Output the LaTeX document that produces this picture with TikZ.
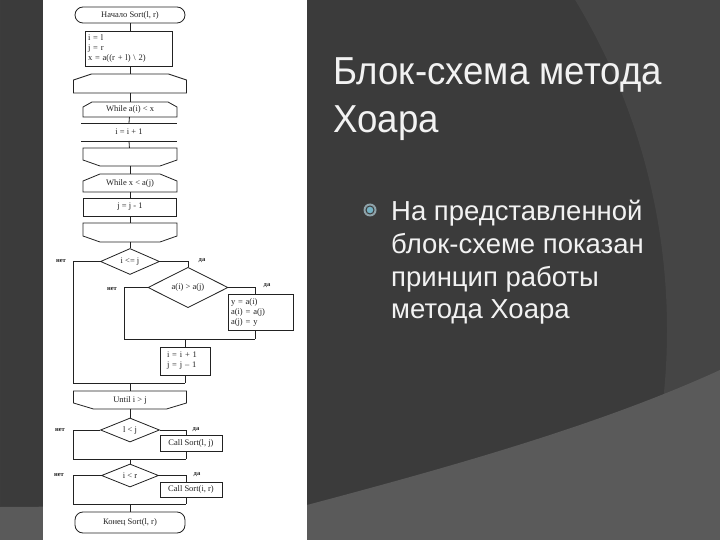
\documentclass[tikz,border=0pt]{standalone}
\usepackage{fontspec}
\setmainfont{Liberation Serif}
\newfontfamily\slidefont{Liberation Sans}
\newfontfamily\titlefont[FakeStretch=0.94]{Liberation Sans}
\usetikzlibrary{shapes.geometric}
\definecolor{slidedark}{HTML}{3B3B3B}
\definecolor{slidemid}{HTML}{454545}
\definecolor{slidelow}{HTML}{5A5A5A}
\definecolor{slidetext}{HTML}{F2F2F2}
\definecolor{bulletring}{HTML}{8FA3AA}
\definecolor{bulletdot}{HTML}{74B2C4}
\definecolor{ink}{HTML}{222222}

\tikzset{
  flow/.style={draw=ink, line width=0.8pt, text=ink, inner sep=1pt,
    font=\fontsize{8.5}{10}\selectfont},
  term/.style={flow, rectangle, rounded corners=8pt},
  proc/.style={flow, rectangle},
  cond/.style={flow, diamond, inner sep=0pt},
  loopbox/.style={flow, draw=none, rectangle, inner sep=0pt, outer sep=0pt},
  link/.style={draw=ink, line width=0.8pt},
  branch/.style={text=ink, inner sep=0pt, font=\fontsize{6.5}{7}\selectfont\bfseries}
}
% loop limit outlines: node, cut in x, cut in y
\newcommand\cuttop[3]{\draw[link] (#1.south west) -- ([yshift=-#3]#1.north west)
  -- ([xshift=#2]#1.north west) -- ([xshift=-#2]#1.north east)
  -- ([yshift=-#3]#1.north east) -- (#1.south east) -- cycle;}
\newcommand\cutbot[3]{\draw[link] (#1.north west) -- ([yshift=#3]#1.south west)
  -- ([xshift=#2]#1.south west) -- ([xshift=-#2]#1.south east)
  -- ([yshift=#3]#1.south east) -- (#1.north east) -- cycle;}

\begin{document}
\begin{tikzpicture}[x=1pt, y=-1pt]
\useasboundingbox (0,0) rectangle (720,540);

% slide background
\fill[slidedark] (0,0) rectangle (720,540);
\fill[slidemid, even odd rule] (0,0) rectangle (720,540) (29,330) circle (638);
\fill[slidelow] (0,507) -- (307,505) .. controls (450,467) and (600,425) .. (720,370)
  -- (720,540) -- (0,540) -- cycle;
\fill[white] (43,0) rectangle (307,540);

% flowchart
\node[term, minimum width=110pt, minimum height=16pt] (start) at (130,15) {Начало Sort(l, r)};
\node[proc, text width=81pt, minimum height=35pt, inner xsep=3pt, align=left] (init) at (128.5,48.5)
  {i = l\\j = r\\x = a((r + l) \textbackslash{} 2)};
\node[loopbox, minimum width=113pt, minimum height=19pt] (loopA) at (130,83.5) {};
\cuttop{loopA}{18pt}{6pt}
\node[loopbox, minimum width=94pt, minimum height=15pt] (whileA) at (130,109.5) {While a(i) < x};
\cuttop{whileA}{9pt}{5pt}
\node[loopbox, minimum width=96pt, minimum height=18pt] (incI) at (129,132) {i = i + 1};
\draw[link] (incI.north west) -- (incI.north east);
\draw[link] (incI.south west) -- (incI.south east);
\node[loopbox, minimum width=94pt, minimum height=18pt] (endA) at (130,157) {};
\cutbot{endA}{17pt}{6pt}
\node[loopbox, minimum width=94pt, minimum height=18pt] (whileB) at (130,183) {While x < a(j)};
\cuttop{whileB}{17pt}{7pt}
\node[proc, minimum width=93pt, minimum height=18pt] (decJ) at (130,207) {j = j - 1};
\node[loopbox, minimum width=94pt, minimum height=19pt] (endB) at (130,232.5) {};
\cutbot{endB}{17pt}{6pt}

\node[cond, minimum width=59pt, minimum height=25pt] (cmp) at (130,261.5) {i <= j};
\node[cond, minimum width=80pt, minimum height=29pt] (swapq) at (188,287.5) {a(i) > a(j)};
\node[proc, text width=59pt, minimum height=36pt, inner xsep=3pt, align=left] (swap) at (260.5,312)
  {y = a(i)\\a(i) = a(j)\\a(j) = y};
\node[proc, text width=36pt, minimum height=28pt, inner xsep=7pt, align=left] (incdec) at (185,361)
  {i = i + 1\\j = j – 1};

\node[loopbox, minimum width=113pt, minimum height=18pt] (until) at (130,400) {Until i > j};
\cutbot{until}{20pt}{6pt}
\node[cond, minimum width=59pt, minimum height=24pt] (lcmp) at (130,430) {l < j};
\node[proc, minimum width=62pt, minimum height=16pt] (callA) at (191,443) {Call Sort(l, j)};
\node[cond, minimum width=57pt, minimum height=23pt] (rcmp) at (130,475.5) {i < r};
\node[proc, minimum width=62pt, minimum height=15pt] (callB) at (191,489.5) {Call Sort(i, r)};
\node[term, minimum width=110pt, minimum height=21pt] (finish) at (130,522.5) {Конец Sort(l, r)};

% main column
\draw[link] (start) -- (start |- init.north);
\draw[link] (start |- init.south) -- (loopA);
\draw[link] (loopA) -- (whileA);
\draw[link] (whileA) -- (incI.north);
\draw[link] (incI.south) -- (endA);
\draw[link] (endA) -- (whileB);
\draw[link] (whileB) -- (decJ);
\draw[link] (decJ) -- (endB);
\draw[link] (endB) -- (cmp);

% i <= j
\coordinate (skipA) at (73,383);
\coordinate (skipB) at (124,339);
\coordinate (swapCol) at (255,339);
\draw[link] (cmp.west) -| (skipA) -- (skipA -| incdec.south);
\draw[link] (cmp.east) -| (swapq.north);
\draw[link] (swapq.west) -| (skipB) -- (swapCol);
\draw[link] (swapq.east) -| (swapCol |- swap.north);
\draw[link] (swapCol |- swap.south) -- (swapCol);
\draw[link] (incdec.north |- skipB) -- (incdec);
\draw[link] (incdec) -- (incdec.south |- skipA);
\draw[link] (until.north |- skipA) -- (until);
\draw[link] (until) -- (lcmp);

% l < j
\coordinate (skipC) at (73,459);
\coordinate (callCol) at (186,459);
\draw[link] (lcmp.west) -| (skipC) -- (callCol);
\draw[link] (lcmp.east) -| (callCol |- callA.north);
\draw[link] (callCol |- callA.south) -- (callCol);
\draw[link] (rcmp.north |- skipC) -- (rcmp);

% i < r
\coordinate (skipD) at (73,504);
\coordinate (callColB) at (186,504);
\draw[link] (rcmp.west) -| (skipD) -- (callColB);
\draw[link] (rcmp.east) -| (callColB |- callB.north);
\draw[link] (callColB |- callB.south) -- (callColB);
\draw[link] (finish.north |- skipD) -- (finish);

\node[branch] (noA) at (61,261) {нет};
\node[branch] (yesA) at (202,261) {да};
\node[branch] (noB) at (112,289) {нет};
\node[branch] (yesB) at (267,286) {да};
\node[branch] (noC) at (60,430) {нет};
\node[branch] (yesC) at (196,430) {да};
\node[branch] (noD) at (59,475) {нет};
\node[branch] (yesD) at (197,475) {да};

% slide text
\node[anchor=north west, inner sep=0pt, text=slidetext, align=left,
  font=\titlefont\fontsize{39}{48}\selectfont] (title) at (333,57) {Блок-схема метода\\Хоара};
\node[circle, fill=bulletring, minimum size=13pt, inner sep=0pt] (mark) at (370,210) {};
\node[circle, fill=bulletdot, draw=slidedark, line width=1pt, minimum size=8pt, inner sep=0pt] (markdot) at (mark) {};
\node[anchor=north west, inner sep=0pt, text=slidetext, align=left,
  font=\slidefont\fontsize{27.5}{32.7}\selectfont] (point) at (391,200)
  {На представленной\\блок-схеме показан\\принцип работы\\метода Хоара};
\end{tikzpicture}
\end{document}
